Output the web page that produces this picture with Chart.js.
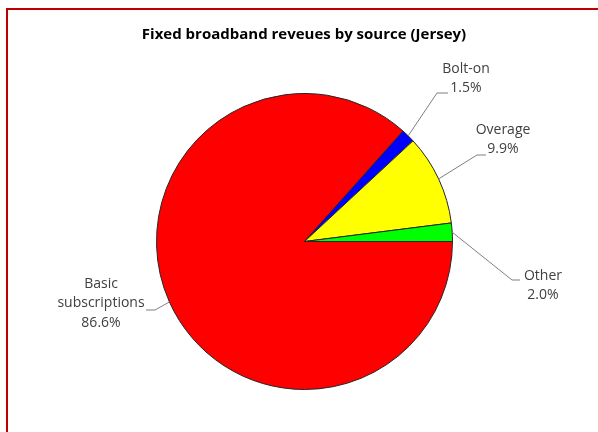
<!DOCTYPE html>
<html>
<head>
<meta charset="utf-8">
<script src="https://cdn.jsdelivr.net/npm/chart.js@4/dist/chart.umd.min.js"></script>
<style>
  html, body { margin: 0; padding: 0; background: #fff; overflow: hidden; }
  .wrap { position: relative; width: 598px; height: 432px; }
  .frame { position: absolute; left: 6px; top: 8px; width: 700px; height: 700px; border: 2px solid #c00000; box-sizing: border-box; }
  canvas { position: absolute; left: 0; top: 0; }
</style>
</head>
<body>
<div class="wrap">
  <div class="frame"></div>
  <canvas id="pieChart" width="598" height="432"></canvas>
</div>
<script>
// data
const categories = ['Basic subscriptions', 'Bolt-on', 'Overage', 'Other'];
const shares = [86.6, 1.5, 9.9, 2.0];
const sliceColors = ['#ff0000', '#0000ff', '#ffff00', '#00ff00'];
const chartTitle = 'Fixed broadband reveues by source (Jersey)';

// label text lines + where the callout sits (text centre x, first line y, elbow, tail end)
const labelLayout = [
    { lines: ['Basic', 'subscriptions'], x: 101, y: 284, elbow: [155, 310], tail: 146 },
    { lines: ['Bolt-on'], x: 466, y: 69, elbow: [437, 93], tail: 448 },
    { lines: ['Overage'], x: 503, y: 130, elbow: [477, 155], tail: 486 },
    { lines: ['Other'], x: 543, y: 276, elbow: [512, 280], tail: 520 }
];

const FONT = '"Open Sans", "Liberation Sans", sans-serif';

const calloutPlugin = {
    id: 'callouts',
    afterDraw(chart) {
        const ctx = chart.ctx;
        const meta = chart.getDatasetMeta(0);
        ctx.save();

        // title
        ctx.fillStyle = '#000';
        ctx.font = 'bold 15px ' + FONT;
        ctx.textAlign = 'center';
        ctx.textBaseline = 'middle';
        ctx.fillText(chartTitle, 304, 35);

        meta.data.forEach((arc, i) => {
            const p = arc.getProps(['x', 'y', 'startAngle', 'endAngle', 'outerRadius'], true);
            const mid = (p.startAngle + p.endAngle) / 2;
            const sx = p.x + Math.cos(mid) * p.outerRadius;
            const sy = p.y + Math.sin(mid) * p.outerRadius;
            const lay = labelLayout[i];

            ctx.strokeStyle = '#7f7f7f';
            ctx.lineWidth = 1;
            ctx.beginPath();
            ctx.moveTo(sx, sy);
            ctx.lineTo(lay.elbow[0], lay.elbow[1]);
            ctx.lineTo(lay.tail, lay.elbow[1]);
            ctx.stroke();

            const lines = lay.lines.concat([shares[i].toFixed(1) + '%']);
            ctx.fillStyle = '#404040';
            ctx.font = '14px ' + FONT;
            ctx.textAlign = 'center';
            ctx.textBaseline = 'middle';
            lines.forEach((t, k) => ctx.fillText(t, lay.x, lay.y + k * 19.5));
        });
        ctx.restore();
    }
};

new Chart(document.getElementById('pieChart'), {
    type: 'pie',
    data: {
        labels: categories,
        datasets: [{
            data: shares,
            backgroundColor: sliceColors,
            borderColor: '#262626',
            borderWidth: 1
        }]
    },
    options: {
        responsive: false,
        animation: false,
        rotation: 90,
        layout: { padding: { left: 156, right: 145, top: 93, bottom: 42 } },
        plugins: {
            legend: { display: false },
            tooltip: { enabled: false },
            title: { display: false }
        }
    },
    plugins: [calloutPlugin]
});
</script>
</body>
</html>
